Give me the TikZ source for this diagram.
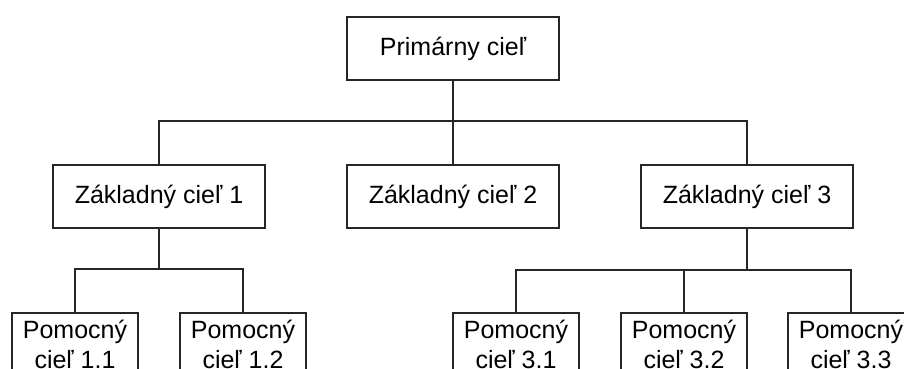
\documentclass[tikz,border=0pt]{standalone}
\usepackage{fontspec}
\setmainfont{Liberation Sans}
\begin{document}
\begin{tikzpicture}[x=1pt,y=-1pt,
  goal/.style={draw=black!85, line width=1.6pt, fill=white, minimum width=212pt, minimum height=63pt,
    inner sep=0pt, font=\fontsize{25}{30}\selectfont},
  subgoal/.style={draw=black!85, line width=1.6pt, fill=white, minimum width=126pt, anchor=north,
    inner xsep=0pt, inner ysep=7pt, align=center, font=\fontsize{25}{30}\selectfont},
  link/.style={draw=black!85, line width=1.6pt}]
\useasboundingbox (0,0) rectangle (904,369);
\clip (0,0) rectangle (904,369);

% top level
\node[goal] (p) at (453,48.5) {Primárny cieľ};

% main goals
\node[goal] (z1) at (159,196.5) {Základný cieľ 1};
\node[goal] (z2) at (453,196.5) {Základný cieľ 2};
\node[goal] (z3) at (747,196.5) {Základný cieľ 3};

% supporting goals
\node[subgoal] (p11) at (75,312) {Pomocný\\cieľ 1.1};
\node[subgoal] (p12) at (243,312) {Pomocný\\cieľ 1.2};
\node[subgoal] (p31) at (516,312) {Pomocný\\cieľ 3.1};
\node[subgoal] (p32) at (684,312) {Pomocný\\cieľ 3.2};
\node[subgoal] (p33) at (851,312) {Pomocný\\cieľ 3.3};

% tree connectors
\draw[link] (z1.north) -- ++(0,-43) -| (p.south);
\draw[link] (z3.north) -- ++(0,-43) -| (p.south);
\draw[link] (p.south) -- (z2.north);

\draw[link] (p11.north) -- ++(0,-43) -| (z1.south);
\draw[link] (p12.north) -- ++(0,-43) -| (z1.south);

\draw[link] (p31.north) -- ++(0,-42) -| (z3.south);
\draw[link] (p32.north) -- ++(0,-42) -| (z3.south);
\draw[link] (p33.north) -- ++(0,-42) -| (z3.south);
\end{tikzpicture}
\end{document}
